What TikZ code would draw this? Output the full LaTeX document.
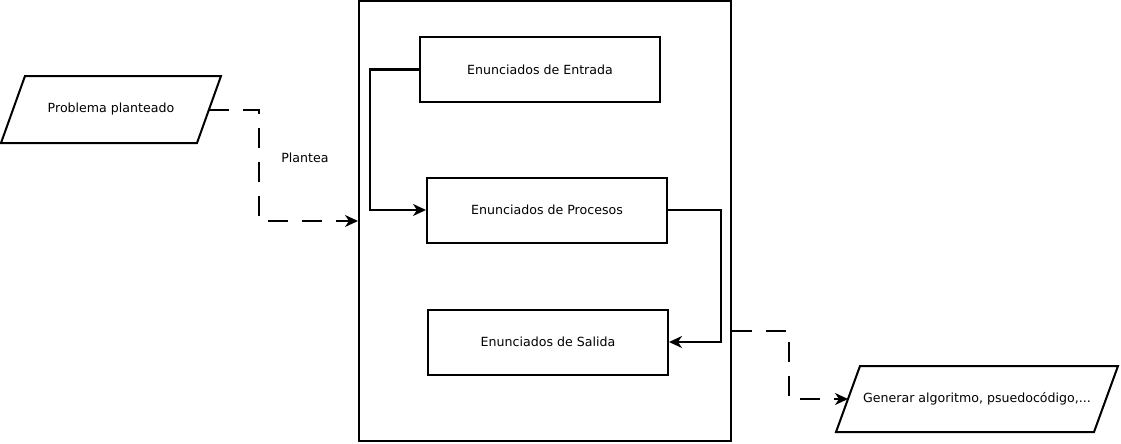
\documentclass[tikz,border=0pt]{standalone}
\usepackage{fontspec}
\setmainfont{DejaVu Sans}
\usetikzlibrary{arrows.meta}
\begin{document}
\begin{tikzpicture}[x=1pt,y=-1pt,
  every node/.style={font=\fontsize{12.6}{15}\selectfont},
  lw/.style={line width=2pt},
  box/.style={draw,lw,minimum width=240pt,minimum height=65pt,inner sep=0pt},
  shapeline/.style={draw,lw,line join=miter},
  conn/.style={lw,-{Stealth[length=13pt,width=12pt,inset=4pt]}},
  dconn/.style={conn,dash pattern=on 20pt off 14pt}
]
\useasboundingbox (0,0) rectangle (1121,444);
\node[draw,lw,minimum width=372pt,minimum height=440pt,inner sep=0pt] (big) at (545,221) {};
\node[box] (ent) at (540,69.5) {Enunciados de Entrada};
\node[box] (pro) at (547,210) {Enunciados de Procesos};
\node[box] (sal) at (548,342) {Enunciados de Salida};
% Problema planteado parallelogram
\draw[shapeline] (25,76) -- (221,76) -- (197,143) -- (1,143) -- cycle;
\node (prob) at (111,109.5) {Problema planteado};
\coordinate (probout) at (209,109.5);
% Generar parallelogram
\draw[shapeline] (860,366) -- (1118,366) -- (1094,432) -- (836,432) -- cycle;
\node (gen) at (977,399) {Generar algoritmo, psuedocódigo,...};
\coordinate (genin) at (848,399);
\coordinate (bigin) at (big.west |- 0,221);
\coordinate (bigout) at (big.east |- 0,331);
\draw[dconn] (probout) -- (259,109.5) -- (259,221) -- (bigin);
\node (lab) at (305,158) {Plantea};
\draw[conn] (ent.west) -- (370,69.5) -- (370,210) -- (pro.west);
\draw[conn] (pro.east) -- (721,210) -- (721,342) -- (sal.east);
\draw[dconn] (bigout) -- (789,331) -- (789,399) -- (genin);
\end{tikzpicture}
\end{document}
